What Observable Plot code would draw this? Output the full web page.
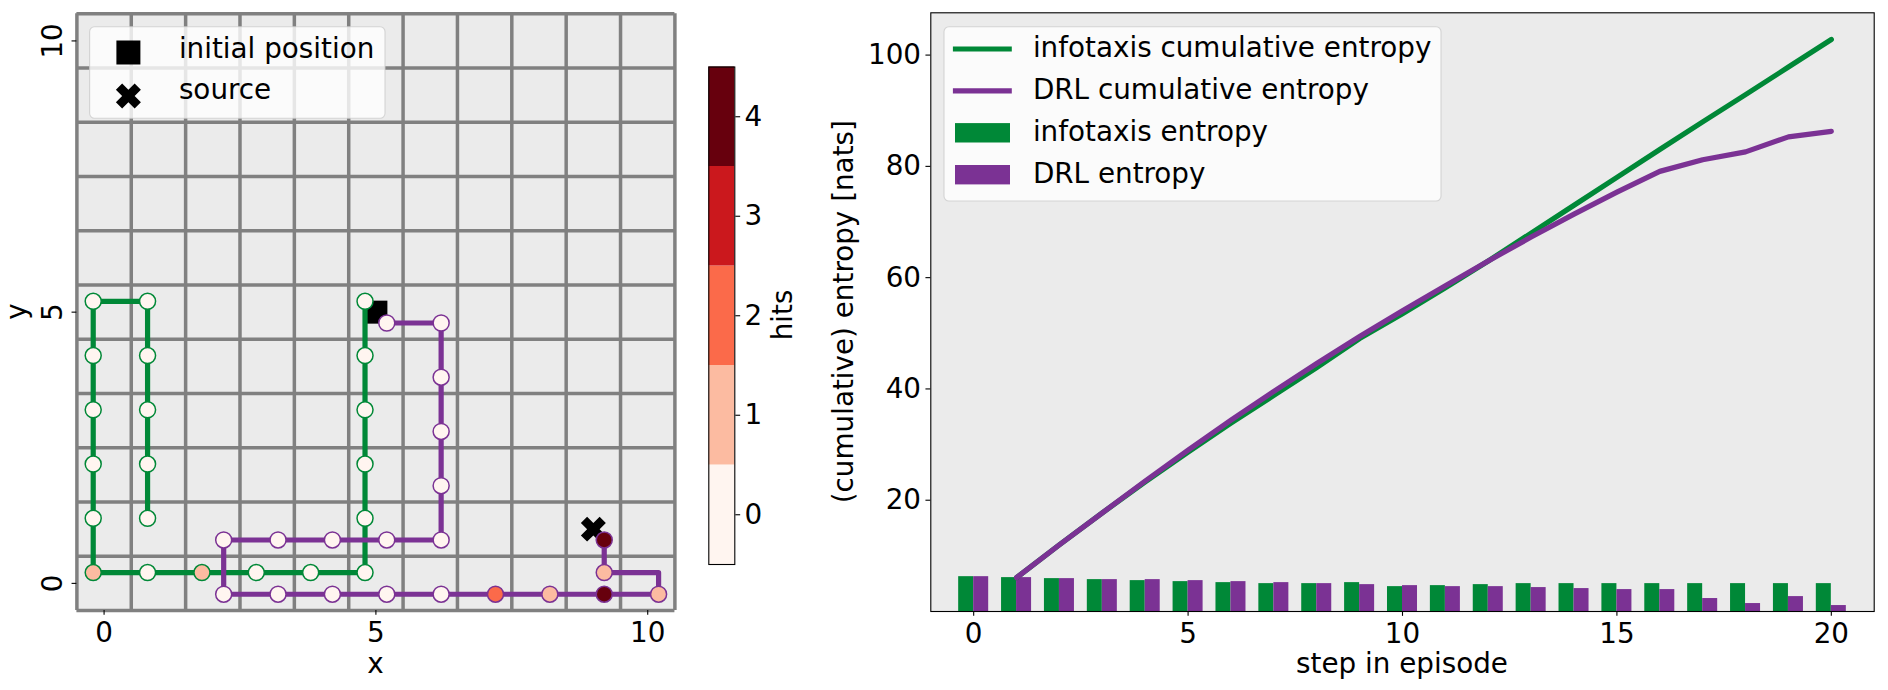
<!DOCTYPE html>
<html><head><meta charset="utf-8">
<script src="https://cdn.jsdelivr.net/npm/d3@7"></script>
<script src="https://cdn.jsdelivr.net/npm/@observablehq/plot@0.6"></script>
<style>
body{margin:0;background:#fff;}
#fig{position:relative;width:1888px;height:690px;font-family:"DejaVu Sans";}
#fig svg{position:absolute;top:0;overflow:visible;}
</style></head><body><div id="fig"></div>
<script>
const GREEN = "#008837", PURPLE = "#7b3294";
const FONT = "DejaVu Sans", FS = 27.8, LW = 5.2;

// ---- colour levels (hits) ----
const hitLevels = [0, 1, 2, 3, 4];
const hitColors = ["#fff5f0", "#fcbba1", "#fb6a4a", "#cb181d", "#67000d"];

// ---- left panel: grid world ----
const gridLines = [-0.5, 0.5, 1.5, 2.5, 3.5, 4.5, 5.5, 6.5, 7.5, 8.5, 9.5, 10.5];
const gridTicks = [0, 5, 10];
const initialX = [5], initialY = [5];
const sourceX = [9], sourceY = [1];

const infotaxisX = [4.8, 4.8, 4.8, 4.8, 4.8, 4.8, 3.8, 2.8, 1.8, 0.8, -0.2, -0.2, -0.2, -0.2, -0.2, -0.2, 0.8, 0.8, 0.8, 0.8, 0.8];
const infotaxisY = [5.2, 4.2, 3.2, 2.2, 1.2, 0.2, 0.2, 0.2, 0.2, 0.2, 0.2, 1.2, 2.2, 3.2, 4.2, 5.2, 5.2, 4.2, 3.2, 2.2, 1.2];
const infotaxisHits = [0, 0, 0, 0, 0, 0, 0, 0, 1, 0, 1, 0, 0, 0, 0, 0, 0, 0, 0, 0, 0];

const drlX = [5.2, 6.2, 6.2, 6.2, 6.2, 6.2, 5.2, 4.2, 3.2, 2.2, 2.2, 3.2, 4.2, 5.2, 6.2, 7.2, 8.2, 9.2, 10.2, 9.2, 9.2];
const drlY = [4.8, 4.8, 3.8, 2.8, 1.8, 0.8, 0.8, 0.8, 0.8, 0.8, -0.2, -0.2, -0.2, -0.2, -0.2, -0.2, -0.2, -0.2, -0.2, 0.2, 0.8];
const drlHits = [0, 0, 0, 0, 0, 0, 0, 0, 0, 0, 0, 0, 0, 0, 0, 2, 1, 4, 1, 1, 4];
const drlLineX = [5.2, 6.2, 6.2, 6.2, 6.2, 6.2, 5.2, 4.2, 3.2, 2.2, 2.2, 3.2, 4.2, 5.2, 6.2, 7.2, 8.2, 9.2, 10.2, 10.2, 9.2, 9.2];
const drlLineY = [4.8, 4.8, 3.8, 2.8, 1.8, 0.8, 0.8, 0.8, 0.8, 0.8, -0.2, -0.2, -0.2, -0.2, -0.2, -0.2, -0.2, -0.2, -0.2, 0.2, 0.2, 0.8];

// ---- right panel: entropy ----
const steps = [0, 1, 2, 3, 4, 5, 6, 7, 8, 9, 10, 11, 12, 13, 14, 15, 16, 17, 18, 19, 20];
const infotaxisEntropy = [6.26, 6.09, 5.91, 5.73, 5.55, 5.37, 5.19, 5.01, 5.01, 5.19, 4.47, 4.65, 4.83, 5.01, 5.01, 5.01, 5.01, 5.01, 5.01, 5.01, 5.01];
const drlEntropy = [6.26, 6.09, 5.91, 5.73, 5.73, 5.55, 5.37, 5.19, 5.01, 4.83, 4.65, 4.47, 4.47, 4.30, 4.12, 3.94, 3.94, 2.33, 1.43, 2.68, 1.07];
const cumSteps = [1, 2, 3, 4, 5, 6, 7, 8, 9, 10, 11, 12, 13, 14, 15, 16, 17, 18, 19, 20];
const infotaxisCumulative = [6.09, 12.0, 17.73, 23.28, 28.65, 33.84, 38.85, 43.86, 49.05, 53.52, 58.17, 63.0, 68.01, 73.02, 78.03, 83.04, 88.0, 92.9, 97.85, 102.8];
const drlCumulative = [6.09, 12.0, 17.73, 23.46, 29.01, 34.38, 39.57, 44.58, 49.41, 54.06, 58.53, 63.0, 67.3, 71.42, 75.36, 79.1, 81.2, 82.6, 85.3, 86.3];
const stepTicks = [0, 5, 10, 15, 20];
const entropyTicks = [20, 40, 60, 80, 100];

// ---- symbols ----
const squareSym = {draw(ctx, size) {const s = Math.sqrt(size / Math.PI); ctx.moveTo(-s, -s); ctx.lineTo(s, -s); ctx.lineTo(s, s); ctx.lineTo(-s, s); ctx.closePath();}};
function xPoints(L) {
  const w = L / 3;
  const pts = [[-w,-L],[w,-L],[w,-w],[L,-w],[L,w],[w,w],[w,L],[-w,L],[-w,w],[-L,w],[-L,-w],[-w,-w]];
  const c = Math.SQRT1_2;
  return pts.map(([x, y]) => [(x - y) * c, (x + y) * c]);
}
const xSym = {draw(ctx, size) {const L = Math.sqrt(size / Math.PI); const p = xPoints(L); ctx.moveTo(...p[0]); for (let k = 1; k < p.length; ++k) ctx.lineTo(...p[k]); ctx.closePath();}};

const color = {type: "ordinal", domain: hitLevels, range: hitColors};
const style = {fontFamily: FONT, fontSize: FS + "px", background: "transparent", overflow: "visible", color: "black"};

const infotaxisPts = infotaxisX.map((x, i) => ({x, y: infotaxisY[i], hits: infotaxisHits[i]}));
const drlPts = drlX.map((x, i) => ({x, y: drlY[i], hits: drlHits[i]}));
const drlLine = drlLineX.map((x, i) => ({x, y: drlLineY[i]}));

const left = Plot.plot({
  width: 700, height: 690,
  marginLeft: 76.4, marginRight: 25.6, marginTop: 13.3, marginBottom: 80,
  x: {domain: [-0.5, 10.5], label: null},
  y: {domain: [-0.5, 10.5], label: null},
  color, style,
  marks: [
    Plot.frame({fill: "#ebebeb"}),
    Plot.ruleX(gridLines, {x: d => d, stroke: "#808080", strokeWidth: 3.5}),
    Plot.ruleY(gridLines, {y: d => d, stroke: "#808080", strokeWidth: 3.5}),
    Plot.axisX({ticks: gridTicks, tickSize: 4.86, tickPadding: 7.1, fontSize: FS, strokeWidth: 1.1, label: null}),
    Plot.axisY({ticks: gridTicks, tickSize: 4.86, tickPadding: 10.5, tickRotate: -90, textAnchor: "middle", lineAnchor: "bottom", fontSize: FS, strokeWidth: 1.1, label: null}),
    Plot.dot(initialX, {x: d => d, y: (d, i) => initialY[i], symbol: squareSym, r: 11.5, fill: "black", stroke: "none"}),
    Plot.dot(sourceX, {x: d => d, y: (d, i) => sourceY[i], symbol: xSym, r: 13.25, fill: "black", stroke: "none"}),
    Plot.line(infotaxisPts, {x: "x", y: "y", stroke: GREEN, strokeWidth: LW, strokeLinejoin: "round"}),
    Plot.line(drlLine, {x: "x", y: "y", stroke: PURPLE, strokeWidth: LW, strokeLinejoin: "round"}),
    Plot.dot(infotaxisPts, {x: "x", y: "y", r: 8, fill: "hits", stroke: GREEN, strokeWidth: 1.5}),
    Plot.dot(drlPts, {x: "x", y: "y", r: 8, fill: "hits", stroke: PURPLE, strokeWidth: 1.5})
  ]
});
left.style.left = "0px";

const cbar = Plot.plot({
  width: 100, height: 690,
  marginLeft: 8.3, marginRight: 65.7, marginTop: 66.5, marginBottom: 126,
  x: {domain: [0, 1], axis: null},
  y: {domain: [-0.5, 4.5], label: null, axis: null},
  color, style,
  marks: [
    Plot.rect(hitLevels, {x1: 0, x2: 1, y1: d => d - 0.5, y2: d => d + 0.5, fill: d => d}),
    Plot.frame({stroke: "black", strokeWidth: 1.1}),
    Plot.axisY({anchor: "right", ticks: hitLevels, tickFormat: d3.format("d"), tickSize: 4.86, tickPadding: 4.9, fontSize: FS, strokeWidth: 1.1, label: null})
  ]
});
cbar.style.left = "700px";

const right = Plot.plot({
  width: 1098, height: 690,
  marginLeft: 140.3, marginRight: 14.3, marginTop: 12.3, marginBottom: 79,
  x: {domain: [-1, 21], label: null},
  y: {domain: [0, 107.6], label: null},
  style,
  marks: [
    Plot.frame({fill: "#ebebeb"}),
    Plot.rect(steps, {x1: d => d - 0.35, x2: d => d, y1: 0, y2: (d, i) => infotaxisEntropy[i], fill: GREEN}),
    Plot.rect(steps, {x1: d => d, x2: d => d + 0.35, y1: 0, y2: (d, i) => drlEntropy[i], fill: PURPLE}),
    Plot.line(cumSteps, {x: d => d, y: (d, i) => infotaxisCumulative[i], stroke: GREEN, strokeWidth: LW}),
    Plot.line(cumSteps, {x: d => d, y: (d, i) => drlCumulative[i], stroke: PURPLE, strokeWidth: LW}),
    Plot.frame({stroke: "black", strokeWidth: 1.1}),
    Plot.axisX({ticks: stepTicks, tickSize: 4.86, tickPadding: 7.1, fontSize: FS, strokeWidth: 1.1, label: null}),
    Plot.axisY({ticks: entropyTicks, tickSize: 4.86, tickPadding: 4.9, fontSize: FS, strokeWidth: 1.1, label: null})
  ]
});
right.style.left = "790px";

const fig = document.getElementById("fig");
fig.append(left, cbar, right);

// ---- overlay: titles and legends ----
const ov = d3.select(fig).append("svg")
  .attr("width", 1888).attr("height", 690)
  .style("left", "0px").style("pointer-events", "none")
  .attr("font-family", FONT).attr("font-size", FS);

function label(x, y, t, rot) {
  ov.append("text").attr("transform", `translate(${x},${y})` + (rot ? " rotate(-90)" : ""))
    .attr("text-anchor", "middle").text(t);
}
label(375.4, 673, "x");
label(26, 311.6, "y", true);
label(792, 315, "hits", true);
label(853, 311.7, "(cumulative) entropy [nats]", true);
label(1402, 673, "step in episode");

function box(x, y, w, h) {
  ov.append("rect").attr("x", x).attr("y", y).attr("width", w).attr("height", h).attr("rx", 5)
    .attr("fill", "white").attr("fill-opacity", 0.8).attr("stroke", "#cccccc").attr("stroke-opacity", 0.8).attr("stroke-width", 1.1);
}
function pathFrom(sym, r) {
  const p = d3.path(); sym.draw(p, r * r * Math.PI); return p.toString();
}
// left legend
box(89.6, 26.7, 295.4, 91.6);
ov.append("path").attr("d", pathFrom(squareSym, 12)).attr("transform", "translate(128.4,52.5)");
ov.append("path").attr("d", pathFrom(xSym, 13.25)).attr("transform", "translate(128.4,96)");
ov.append("text").attr("x", 178.9).attr("y", 57.5).text("initial position");
ov.append("text").attr("x", 178.9).attr("y", 99).text("source");

// right legend
box(944, 26.7, 497, 174.3);
const legendItems = [
  {t: "infotaxis cumulative entropy", c: GREEN, kind: "line"},
  {t: "DRL cumulative entropy", c: PURPLE, kind: "line"},
  {t: "infotaxis entropy", c: GREEN, kind: "patch"},
  {t: "DRL entropy", c: PURPLE, kind: "patch"}
];
legendItems.forEach((it, k) => {
  const cy = 49 + k * 41.9;
  if (it.kind === "line") {
    ov.append("line").attr("x1", 952.9).attr("x2", 1011.8).attr("y1", cy).attr("y2", cy)
      .attr("stroke", it.c).attr("stroke-width", LW);
  } else {
    ov.append("rect").attr("x", 955).attr("y", cy - 9.7).attr("width", 55).attr("height", 19.4).attr("fill", it.c);
  }
  ov.append("text").attr("x", 1032.9).attr("y", cy + 8).text(it.t);
});
</script></body></html>
